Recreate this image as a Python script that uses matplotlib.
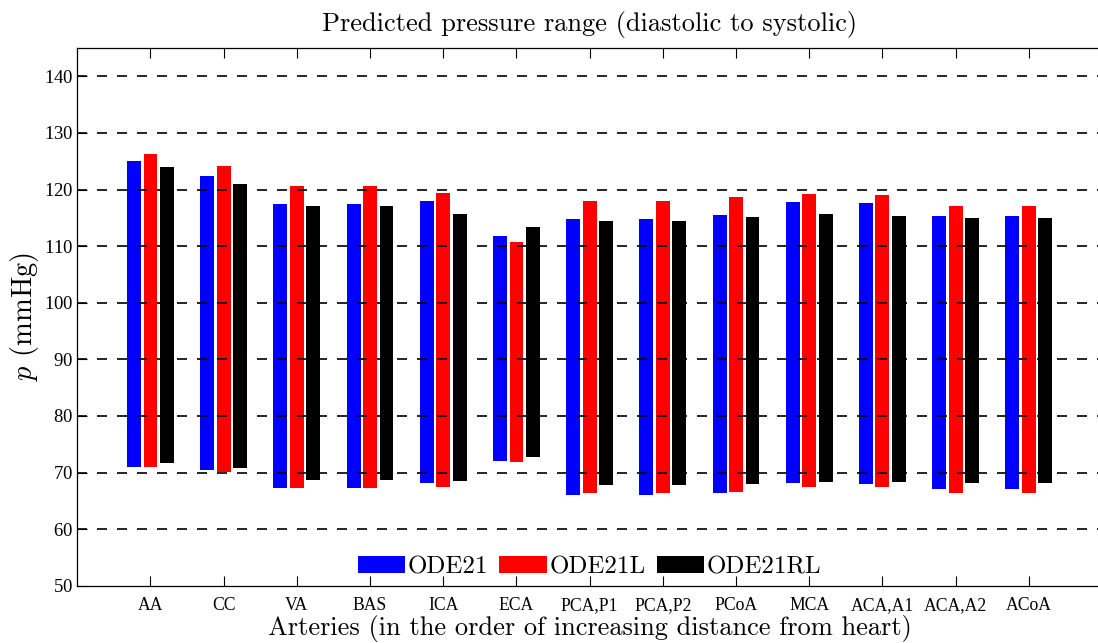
import matplotlib
matplotlib.use("Agg")
import matplotlib.pyplot as plt
import numpy as np

categories = ["AA", "CC", "VA", "BAS", "ICA", "ECA", "PCA,P1", "PCA,P2",
              "PCoA", "MCA", "ACA,A1", "ACA,A2", "ACoA"]
series_names = ["ODE21", "ODE21L", "ODE21RL"]
colors = ["#0000ff", "#ff0000", "#000000"]

# systolic (top) and diastolic (bottom) pressures, mmHg
ode21_sys = [125.0, 122.4, 117.5, 117.5, 118.0, 111.8, 114.8, 114.8, 115.5, 117.8, 117.6, 115.3, 115.3]
ode21_dia = [71.0, 70.5, 67.3, 67.3, 68.2, 72.1, 66.1, 66.1, 66.4, 68.2, 68.0, 67.0, 67.0]
ode21l_sys = [126.3, 124.1, 120.6, 120.6, 119.4, 110.8, 118.0, 118.0, 118.7, 119.2, 119.0, 117.1, 117.1]
ode21l_dia = [71.0, 70.1, 67.3, 67.3, 67.5, 71.9, 66.3, 66.3, 66.6, 67.5, 67.5, 66.4, 66.4]
ode21rl_sys = [124.0, 121.0, 117.1, 117.1, 115.7, 113.4, 114.5, 114.5, 115.2, 115.7, 115.3, 115.0, 115.0]
ode21rl_dia = [71.7, 70.8, 68.7, 68.7, 68.5, 72.8, 67.8, 67.8, 68.0, 68.4, 68.4, 68.2, 68.2]

yticks = [50, 60, 70, 80, 90, 100, 110, 120, 130, 140]

plt.rcParams['lines.scale_dashes'] = False
plt.rcParams['mathtext.fontset'] = 'cm'
plt.rcParams['axes.formatter.use_mathtext'] = True

W, H = 1098, 643
fig = plt.figure(figsize=(W / 100, H / 100), dpi=100)
left, right, top, bottom = 77.3, 1102.0, 48.0, 585.7
ax = fig.add_axes([left / W, (H - bottom) / H, (right - left) / W, (bottom - top) / H])

x = np.arange(1, len(categories) + 1)
tops = [ode21_sys, ode21l_sys, ode21rl_sys]
bots = [ode21_dia, ode21l_dia, ode21rl_dia]
offsets = [-0.225, 0.0, 0.225]
for name, c, t, b, off in zip(series_names, colors, tops, bots, offsets):
    t = np.array(t); b = np.array(b)
    ax.bar(x + off, t - b, bottom=b, width=0.19, color=c, label=name, zorder=1, linewidth=0)

ax.set_xlim(0, 14)
ax.set_ylim(50, 145)
ax.set_yticks(yticks)
ax.set_xticks(x)
ax.set_xticklabels(categories, fontfamily="Liberation Serif", fontsize=12.7)
for lab in ax.get_yticklabels():
    lab.set_fontfamily("Liberation Serif")
    lab.set_fontsize(13.5)
ax.tick_params(axis='x', direction='in', top=True, length=7, width=0.8, pad=8)
ax.tick_params(axis='y', direction='in', length=7, width=0.8, pad=3)

# dashed horizontal grid lines (not over the bottom axis line)
for yv in yticks[1:]:
    ax.axhline(yv, color='black', linestyle=(0, (7.2, 7.2)), linewidth=1.2, zorder=3)
ax.spines['right'].set_visible(False)
for s in ['left', 'top', 'bottom']:
    ax.spines[s].set_linewidth(0.9)
    ax.spines[s].set_zorder(4)

ax.set_title("Predicted pressure range (diastolic to systolic)", fontfamily="cmr10", fontsize=19, pad=12)
ax.set_xlabel("Arteries (in the order of increasing distance from heart)", fontfamily="cmr10", fontsize=19, labelpad=1)
ax.set_ylabel(r"$p$ (mmHg)", fontfamily="cmr10", fontsize=20.5, labelpad=2)

leg = ax.legend(loc='lower center', bbox_to_anchor=(0.5, -0.012), ncol=3, frameon=False,
                prop={'family': 'cmr10', 'size': 18}, handlelength=1.9, handleheight=0.7,
                handletextpad=0.1, columnspacing=0.45, borderaxespad=0.15)

fig.savefig("out.png", dpi=100)
